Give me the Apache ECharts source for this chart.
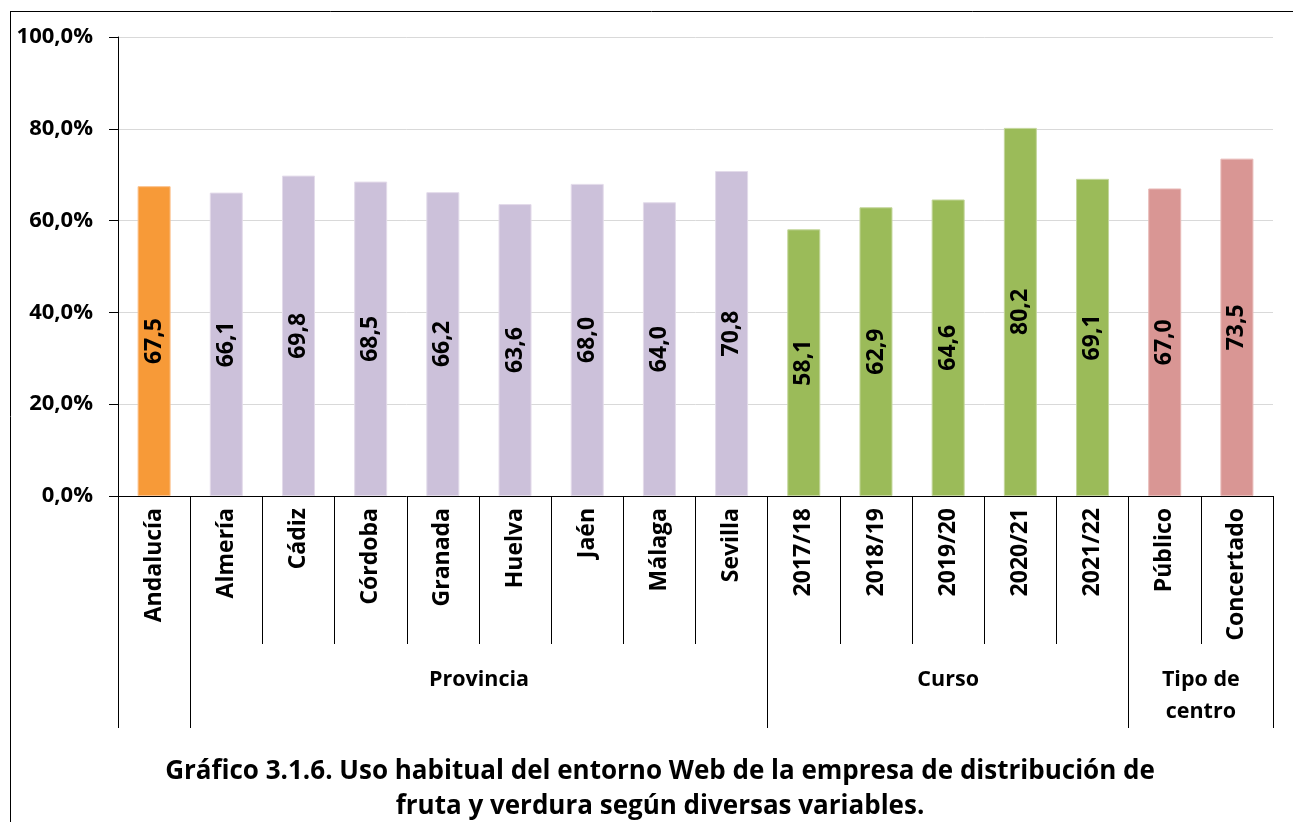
<!DOCTYPE html>
<html><head><meta charset="utf-8">
<script src="https://cdn.jsdelivr.net/npm/echarts@6/dist/echarts.min.js"></script>
<style>html,body{margin:0;padding:0;background:#fff}#c{width:1293px;height:822px}</style>
</head><body><div id="c"></div>
<script>
const categories = ['Andalucía','Almería','Cádiz','Córdoba','Granada','Huelva','Jaén','Málaga','Sevilla','2017/18','2018/19','2019/20','2020/21','2021/22','Público','Concertado'];
const values = [67.5, 66.1, 69.8, 68.5, 66.2, 63.6, 68.0, 64.0, 70.8, 58.1, 62.9, 64.6, 80.2, 69.1, 67.0, 73.5];
const groupIndex = [0,1,1,1,1,1,1,1,1,2,2,2,2,2,3,3];
const groupNames = ['', 'Provincia', 'Curso', 'Tipo de\ncentro'];
const groupBounds = [0, 1, 9, 14, 16];
const yTickValues = [0, 20, 40, 60, 80, 100];
const titleLines = ['Gráfico 3.1.6. Uso habitual del entorno Web de la empresa de distribución de', 'fruta y verdura según diversas variables.'];

const groupColors = ['#F79A38', '#CCC1DA', '#9BBB59', '#D99694'];
const groupBorders = ['#FBC08A', '#E3DBEA', '#C3D69B', '#E8BAB8'];
const FONT = 'Open Sans';

const groupCenters = groupNames.map((n, i) => (groupBounds[i] + groupBounds[i + 1]) / 2);
const fmt = v => v.toFixed(1).replace('.', ',');

const chart = echarts.init(document.getElementById('c'), null, {renderer: 'canvas'});
chart.setOption({
  animation: false,
  backgroundColor: '#fff',
  textStyle: {fontFamily: FONT},
  grid: {left: 118, right: 20, top: 37, bottom: 326, containLabel: false},
  title: {
    text: titleLines.join('\n'),
    left: 655, top: 749, textAlign: 'center',
    textStyle: {fontFamily: FONT, fontSize: 26, fontWeight: 'bold', color: '#000', lineHeight: 35, align: 'center'}
  },
  xAxis: [{
    type: 'category', data: categories, position: 'bottom',
    axisLine: {lineStyle: {color: '#000', width: 1}},
    axisTick: {show: true, interval: 0, length: 148, lineStyle: {color: '#000', width: 1}},
    axisLabel: {interval: 0, rotate: 90, margin: 12, fontFamily: FONT, fontSize: 23, fontWeight: 'bold', color: '#000'},
    splitLine: {show: false}
  }, {
    type: 'value', min: 0, max: 16, position: 'bottom',
    axisLine: {show: false},
    axisTick: {show: true, customValues: groupBounds, length: 232, lineStyle: {color: '#000', width: 1}},
    axisLabel: {
      show: true, customValues: groupCenters, margin: 168,
      formatter: v => { const i = groupCenters.indexOf(v); return i >= 0 ? groupNames[i] : ''; },
      fontFamily: FONT, fontSize: 21.5, fontWeight: 'bold', color: '#000', lineHeight: 32, align: 'center'
    },
    splitLine: {show: false}
  }],
  yAxis: {
    type: 'value', min: 0, max: 100, interval: 20,
    axisLine: {show: true, lineStyle: {color: '#000', width: 1}},
    axisTick: {show: true, length: 9, inside: false, lineStyle: {color: '#000'}},
    axisLabel: {margin: 25, fontFamily: FONT, fontSize: 22, fontWeight: 'bold', color: '#000',
      formatter: v => yTickValues.includes(v) ? fmt(v) + '%' : ''},
    splitLine: {show: true, lineStyle: {color: '#D9D9D9', width: 1}}
  },
  series: [{
    type: 'bar', xAxisIndex: 0, barWidth: 33,
    data: values.map((v, i) => ({
      value: v,
      itemStyle: {color: groupColors[groupIndex[i]], borderColor: groupBorders[groupIndex[i]], borderWidth: 1}
    })),
    label: {show: true, position: 'inside', rotate: 90, formatter: p => fmt(p.value),
      fontFamily: FONT, fontSize: 23, fontWeight: 'bold', color: '#000'}
  }],
  graphic: [
    {type: 'line', shape: {x1: 10.5, y1: 11, x2: 10.5, y2: 822}, style: {stroke: '#000', lineWidth: 1}},
    {type: 'line', shape: {x1: 10, y1: 11.5, x2: 1293, y2: 11.5}, style: {stroke: '#000', lineWidth: 1}}
  ]
});
</script></body></html>
